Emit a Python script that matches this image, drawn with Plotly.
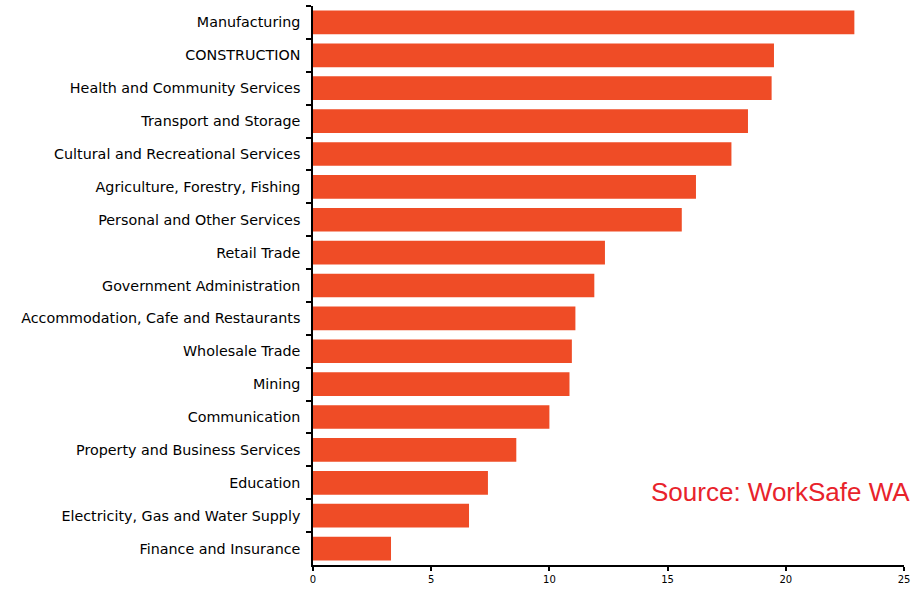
import plotly.graph_objects as go

industries = [
    "Manufacturing",
    "CONSTRUCTION",
    "Health and Community Services",
    "Transport and Storage",
    "Cultural and Recreational Services",
    "Agriculture, Forestry, Fishing",
    "Personal and Other Services",
    "Retail Trade",
    "Government Administration",
    "Accommodation, Cafe and Restaurants",
    "Wholesale Trade",
    "Mining",
    "Communication",
    "Property and Business Services",
    "Education",
    "Electricity, Gas and Water Supply",
    "Finance and Insurance",
]
values = [22.9, 19.5, 19.4, 18.4, 17.7, 16.2, 15.6, 12.35, 11.9, 11.1,
          10.95, 10.85, 10.0, 8.6, 7.4, 6.6, 3.3]
x_ticks = [0, 5, 10, 15, 20, 25]

W, H = 916, 591
L, R, T, B = 313, 12, 6, 21

fig = go.Figure(go.Bar(
    x=values, y=industries, orientation="h",
    marker=dict(color="#EF4C26", line=dict(width=0)),
))

fig.update_layout(
    width=W, height=H,
    margin=dict(l=L, r=R, t=T, b=B, pad=0),
    paper_bgcolor="white", plot_bgcolor="white",
    bargap=0.28,
    showlegend=False,
    font=dict(family="Liberation Sans, Arial, sans-serif", color="black"),
)
fig.update_xaxes(
    range=[0, 25], tickvals=x_ticks, ticktext=[str(v) for v in x_ticks],
    showgrid=False, zeroline=False,
    showline=True, linecolor="black", linewidth=1.5,
    ticks="outside", ticklen=4, tickwidth=1.5, tickcolor="black",
    tickfont=dict(family="DejaVu Sans, sans-serif", size=10, color="black"),
)
fig.update_yaxes(
    autorange="reversed", categoryorder="array", categoryarray=industries,
    showgrid=False, zeroline=False,
    showline=True, linecolor="black", linewidth=1.5,
    ticks="outside", tickson="boundaries", ticklen=5, tickwidth=1.5, tickcolor="black",
    tickfont=dict(family="DejaVu Sans, sans-serif", size=14.3, color="black"),
    ticklabelstandoff=8,
)

pw = W - L - R
ph = H - T - B
fig.add_annotation(
    text="Source: WorkSafe WA",
    xref="paper", yref="paper",
    x=(912 - L) / pw, y=(570 - 496) / ph,
    xanchor="right", yanchor="middle",
    showarrow=False,
    font=dict(family="Liberation Sans, Arial, sans-serif", size=26, color="#E8232B"),
)

fig.write_html("out.html", config={"displayModeBar": False},
               post_script="document.body.style.margin='0';")
